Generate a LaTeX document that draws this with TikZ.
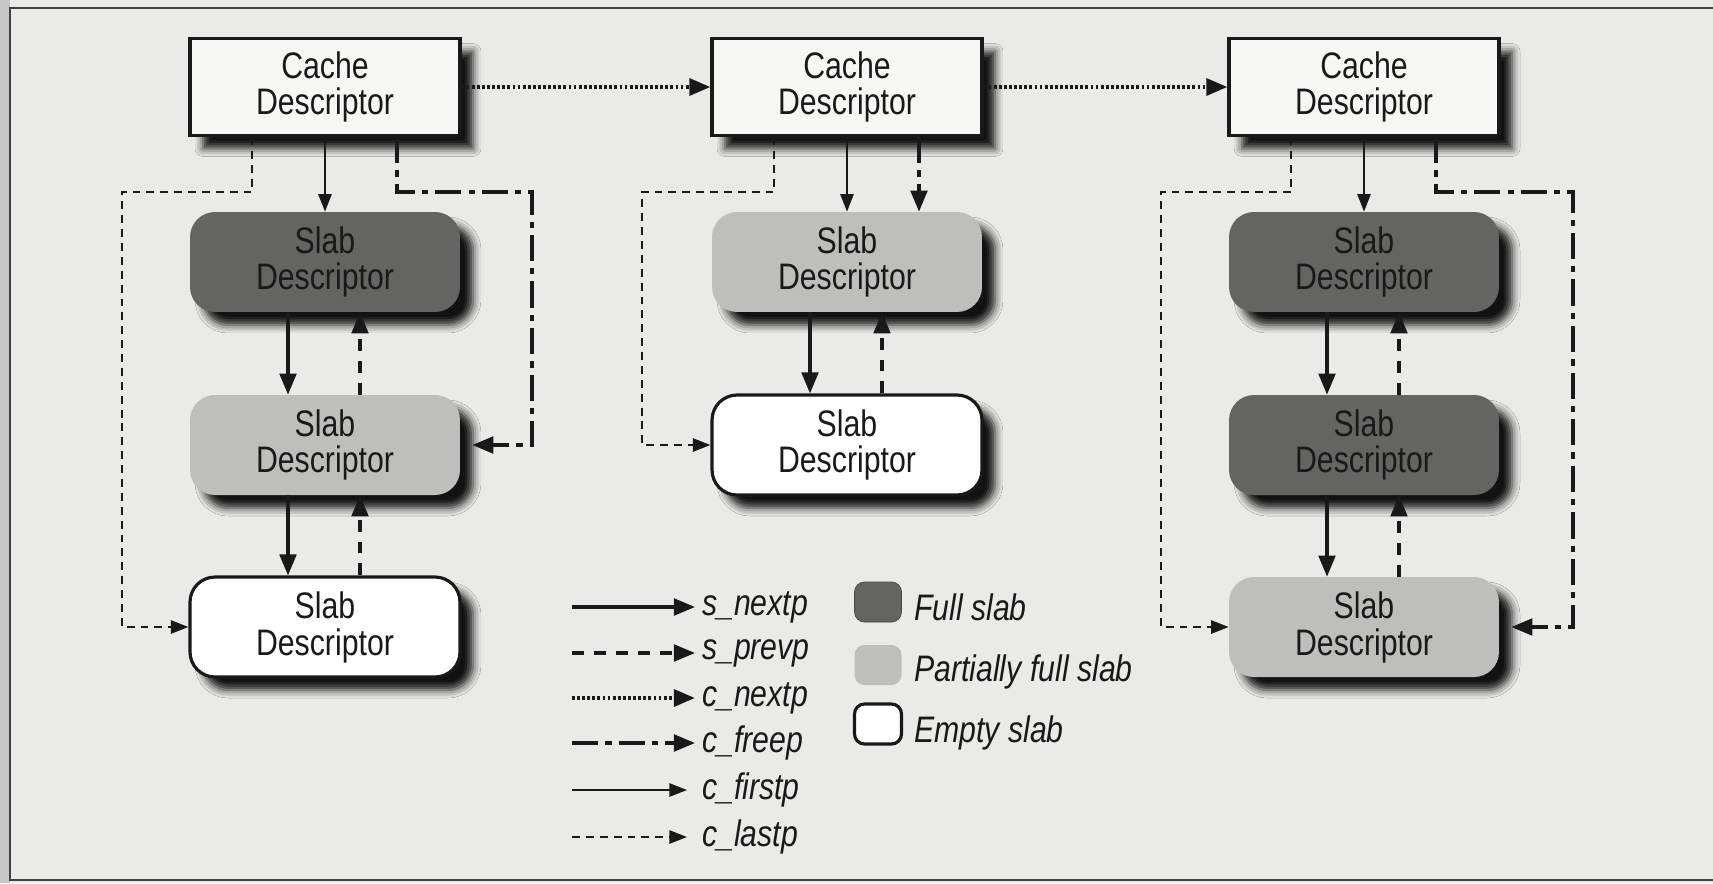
\documentclass[tikz,border=0pt]{standalone}
\usepackage{fontspec}
\setmainfont{Liberation Sans}[FakeStretch=0.82]
\usetikzlibrary{arrows.meta,calc,shadows.blur}
\definecolor{pagegray}{RGB}{234,234,232}
\definecolor{fullgray}{RGB}{100,100,98}
\definecolor{partgray}{RGB}{190,190,188}
\definecolor{inkgray}{RGB}{25,25,25}
\definecolor{cachewhite}{RGB}{246,246,244}
\tikzset{
  boxshadow/.style={blur shadow={shadow xshift=0.26cm, shadow yshift=-0.26cm,
                    shadow blur radius=0.16cm, shadow opacity=92}},
  boxfont/.style={font=\fontsize{21}{21}\selectfont, text=inkgray},
  cache/.style={draw=inkgray, line width=1.8pt, fill=cachewhite,
                minimum width=5.4cm, minimum height=1.94cm,
                inner sep=0pt, align=center, boxfont, boxshadow},
  slab/.style={rounded corners=0.5cm, minimum width=5.4cm, minimum height=2cm,
               inner sep=0pt, align=center, boxfont, boxshadow},
  fullslab/.style={slab, fill=fullgray},
  partslab/.style={slab, fill=partgray},
  emptyslab/.style={slab, draw=inkgray, line width=1.8pt, fill=white},
  swatch/.style={rounded corners=0.2cm, minimum width=0.94cm, minimum height=0.8cm,
                 inner sep=0pt},
  legtext/.style={font=\fontsize{21}{21}\selectfont\itshape, text=inkgray, inner sep=1pt},
  snext/.style={draw=inkgray, line width=1.8pt, -{Triangle[length=12pt,width=9.5pt]}},
  sprev/.style={snext, dash pattern=on 6.8pt off 5.7pt},
  cnext/.style={snext, line width=2.3pt, dash pattern=on 1.6pt off 1.3pt},
  cfree/.style={snext, dash pattern=on 15pt off 4pt on 3.5pt off 4pt},
  cfirst/.style={draw=inkgray, line width=1.2pt, -{Triangle[length=10pt,width=7.5pt]}},
  clast/.style={cfirst, dash pattern=on 4.5pt off 3.4pt},
}

\begin{document}
\begin{tikzpicture}[x=0.02cm,y=-0.02cm]
  \path[use as bounding box] (0,0) rectangle (1713,883);
  \fill[pagegray] (0,0) rectangle (1713,883);
  \fill[black!22] (0,0) rectangle (10,883);
  \draw[black!75, line width=0.8pt] (1713,8) -- (10,8) -- (10,880) -- (1713,880);

  % Cache descriptors.
  \node[cache] (cA) at (325,87)  {Cache\\Descriptor};
  \node[cache] (cB) at (847,87)  {Cache\\Descriptor};
  \node[cache] (cC) at (1364,87) {Cache\\Descriptor};

  % Slab descriptors, one column per cache.
  \node[fullslab]  (sA1) at (325,262) {Slab\\Descriptor};
  \node[partslab]  (sA2) at (325,445) {Slab\\Descriptor};
  \node[emptyslab] (sA3) at (325,627) {Slab\\Descriptor};

  \node[partslab]  (sB1) at (847,262) {Slab\\Descriptor};
  \node[emptyslab] (sB2) at (847,445) {Slab\\Descriptor};

  \node[fullslab]  (sC1) at (1364,262) {Slab\\Descriptor};
  \node[fullslab]  (sC2) at (1364,445) {Slab\\Descriptor};
  \node[partslab]  (sC3) at (1364,627) {Slab\\Descriptor};

  % Cache chain.
  \draw[cnext] (cA.east) -- (cB.west);
  \draw[cnext] (cB.east) -- (cC.west);

  % First slab of each cache.
  \draw[cfirst] (cA.south) -- (sA1.north);
  \draw[cfirst] (cB.south) -- (sB1.north);
  \draw[cfirst] (cC.south) -- (sC1.north);

  % Last slab of each cache.
  \draw[clast] ($(cA.south)+(-73,0)$) |- ($(cA.south)+(-203,55)$) |- (sA3.west);
  \draw[clast] ($(cB.south)+(-73,0)$) |- ($(cB.south)+(-205,55)$) |- (sB2.west);
  \draw[clast] ($(cC.south)+(-73,0)$) |- ($(cC.south)+(-203,55)$) |- (sC3.west);

  % First slab with free objects.
  \draw[cfree] ($(cA.south)+(72,0)$) |- ($(cA.south)+(207,55)$) |- ($(sA2.east)+(12,0)$);
  \draw[cfree] ($(cB.south)+(72,0)$) -- ($(sB1.north)+(72,0)$);
  \draw[cfree] ($(cC.south)+(72,0)$) |- ($(cC.south)+(209,55)$) |- ($(sC3.east)+(12,0)$);

  % Links between slabs.
  \foreach \up/\dn in {sA1/sA2, sA2/sA3, sB1/sB2, sC1/sC2, sC2/sC3}{
    \draw[snext] ($(\up.south)+(-37,0)$) -- ($(\dn.north)+(-37,0)$);
    \draw[sprev] ($(\dn.north)+(35,0)$) -- ($(\up.south)+(35,0)$);
  }

  % Legend.
  \foreach \yy/\sty/\lab/\key/\gap in {
    607/snext/{s\_nextp}/sn/5,
    653/sprev/{s\_prevp}/sp/5,
    698/cnext/{c\_nextp}/cn/5,
    743/cfree/{c\_freep}/cf/5,
    790/cfirst/{c\_firstp}/cs/13,
    837/clast/{c\_lastp}/cl/13
  }{
    \node[legtext, anchor=west] (leg\key) at (700,\yy) {\lab};
    \draw[\sty] ($(leg\key.west)+(-128,0)$) -- ($(leg\key.west)+(-\gap,0)$);
  }

  \node[swatch, fill=fullgray, draw=fullgray!70!black] (swfull) at (878,602) {};
  \node[swatch, fill=partgray] (swpart) at (878,665) {};
  \node[swatch, fill=white, draw=inkgray, line width=1.8pt] (swempty) at (878,724) {};
  \node[legtext, anchor=base west] at (912,620) {Full slab};
  \node[legtext, anchor=base west] at (912,681) {Partially full slab};
  \node[legtext, anchor=base west] at (912,742) {Empty slab};
\end{tikzpicture}
\end{document}
